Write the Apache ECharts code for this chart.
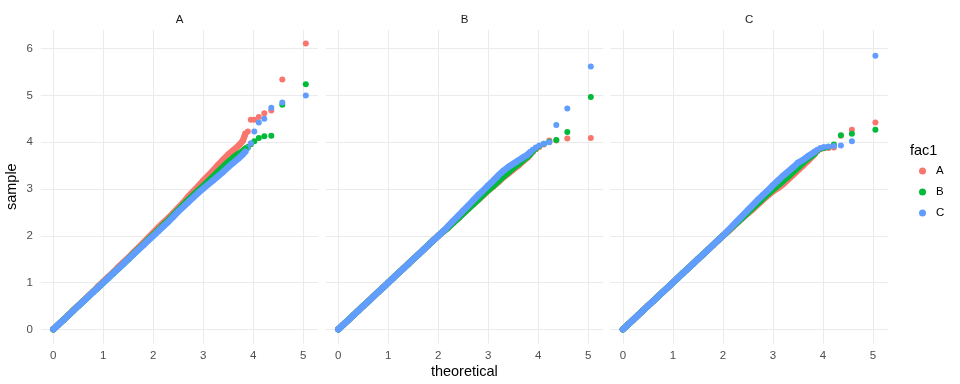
<!DOCTYPE html>
<html><head><meta charset="utf-8">
<script src="https://cdn.jsdelivr.net/npm/echarts@6/dist/echarts.min.js"></script>
<style>html,body{margin:0;padding:0;background:#fff}#c{width:960px;height:384px}</style>
</head><body><div id="c"></div>
<script>
// ---- data ----
const facets = ['A', 'B', 'C'];
const groups = ['A', 'B', 'C'];
const xTicks = [0, 1, 2, 3, 4, 5];
const yTicks = [0, 1, 2, 3, 4, 5, 6];
const theoretical = [0,0.1,0.2,0.3,0.4,0.5,0.6,0.7,0.8,0.9,1.0,1.1,1.2,1.3,1.4,1.5,1.6,1.7,1.8,1.9,
  2.0,2.1,2.2,2.3,2.4,2.5,2.6,2.7,2.8,2.9,3.0,3.1,3.2,3.3,3.4,3.5,3.6,3.7,
  3.79,3.84,3.89,3.95,4.02,4.11,4.22,4.36,4.58,5.05];
const denseCount = 40; // the first points overlap into a continuous band

// facet A
const sampleA_A = [0,0.1,0.2,0.3,0.41,0.51,0.61,0.71,0.81,0.92,1.02,1.12,1.22,1.33,1.43,1.53,1.64,1.74,1.85,1.96,
  2.07,2.18,2.28,2.38,2.49,2.6,2.71,2.84,2.95,3.06,3.18,3.29,3.4,3.52,3.63,3.74,3.83,3.92,
  4.03,4.18,4.23,4.48,4.48,4.54,4.62,4.68,5.34,6.11];
const sampleA_B = [0,0.1,0.2,0.3,0.4,0.5,0.6,0.7,0.8,0.9,1.0,1.1,1.2,1.3,1.4,1.5,1.61,1.71,1.81,1.92,
  2.02,2.12,2.23,2.33,2.44,2.55,2.66,2.77,2.87,2.97,3.07,3.17,3.27,3.38,3.48,3.58,3.67,3.75,
  3.81,3.86,3.9,3.96,4.02,4.09,4.13,4.14,4.80,5.24];
const sampleA_C = [0,0.1,0.2,0.3,0.4,0.5,0.6,0.7,0.8,0.9,1.0,1.1,1.2,1.3,1.4,1.5,1.6,1.7,1.8,1.9,
  2.0,2.1,2.2,2.3,2.41,2.52,2.62,2.72,2.82,2.92,3.01,3.1,3.19,3.28,3.37,3.47,3.56,3.65,
  3.74,3.8,3.88,3.98,4.23,4.42,4.50,4.74,4.85,5.0];
// facet B
const sampleB_A = [0,0.1,0.2,0.3,0.4,0.5,0.6,0.7,0.8,0.9,1.0,1.1,1.2,1.3,1.4,1.5,1.6,1.7,1.8,1.9,
  2.0,2.09,2.18,2.28,2.38,2.48,2.58,2.68,2.77,2.87,2.97,3.06,3.15,3.25,3.33,3.42,3.5,3.6,
  3.68,3.74,3.79,3.85,3.9,3.95,4.04,4.04,4.08,4.09];
const sampleB_B = [0,0.1,0.2,0.3,0.4,0.5,0.6,0.7,0.8,0.9,1.0,1.1,1.2,1.3,1.4,1.5,1.6,1.7,1.8,1.9,
  2.0,2.09,2.18,2.28,2.38,2.48,2.58,2.68,2.78,2.88,2.98,3.07,3.17,3.27,3.36,3.45,3.53,3.62,
  3.7,3.75,3.8,3.86,3.92,3.97,4.01,4.05,4.22,4.97];
const sampleB_C = [0,0.1,0.2,0.3,0.4,0.5,0.6,0.7,0.8,0.9,1.0,1.1,1.2,1.3,1.4,1.5,1.6,1.7,1.8,1.9,
  2.0,2.1,2.21,2.32,2.43,2.54,2.65,2.76,2.87,2.97,3.08,3.18,3.29,3.39,3.47,3.54,3.61,3.68,
  3.74,3.79,3.84,3.89,3.93,3.97,4.0,4.37,4.72,5.62];
// facet C
const sampleC_A = [0,0.1,0.2,0.3,0.4,0.5,0.6,0.7,0.8,0.9,1.0,1.1,1.2,1.3,1.4,1.5,1.6,1.7,1.8,1.9,
  2.0,2.09,2.19,2.29,2.39,2.48,2.57,2.67,2.77,2.86,2.95,3.02,3.1,3.2,3.3,3.4,3.5,3.6,
  3.7,3.76,3.81,3.85,3.87,3.88,3.89,4.14,4.27,4.42];
const sampleC_B = [0,0.1,0.2,0.3,0.4,0.5,0.6,0.7,0.8,0.9,1.0,1.1,1.2,1.3,1.4,1.5,1.6,1.7,1.8,1.9,
  2.0,2.1,2.2,2.3,2.4,2.5,2.6,2.7,2.8,2.9,2.99,3.08,3.17,3.26,3.36,3.46,3.56,3.65,
  3.72,3.77,3.82,3.86,3.88,3.9,3.95,4.15,4.18,4.27];
const sampleC_C = [0,0.1,0.2,0.3,0.4,0.5,0.6,0.7,0.8,0.9,1.0,1.1,1.2,1.3,1.4,1.5,1.6,1.7,1.8,1.9,
  2.0,2.11,2.22,2.33,2.44,2.55,2.66,2.77,2.87,2.97,3.08,3.18,3.28,3.37,3.46,3.56,3.62,3.7,
  3.76,3.8,3.84,3.88,3.9,3.91,3.92,3.93,4.02,5.85];

const samples = [
  [sampleA_A, sampleA_B, sampleA_C],
  [sampleB_A, sampleB_B, sampleB_C],
  [sampleC_A, sampleC_B, sampleC_C]
];

// ---- styling ----
const colors = ['#F8766D', '#00BA38', '#619CFF'];
const FONT = '"Liberation Sans", Arial, Helvetica, sans-serif';
const GRID = '#EBEBEB';
const T = 'rgba(0,0,0,0)';
const panelLeft = [40.8, 325.8, 610.4];
const panelWidth = 277.5;
const panelTop = 30;
const panelHeight = 313.4;

const isTick = (v, list) => list.some(t => Math.abs(t - v) < 1e-6);

const grids = [], xAxes = [], yAxes = [], series = [], graphics = [];
facets.forEach((f, i) => {
  grids.push({ left: panelLeft[i], top: panelTop, width: panelWidth, height: panelHeight });
  xAxes.push({
    type: 'value', gridIndex: i, min: -0.25, max: 5.3, interval: 0.25,
    axisLine: { show: false }, axisTick: { show: false },
    axisLabel: { formatter: v => isTick(v, xTicks) ? String(Math.round(v)) : '', color: '#4D4D4D',
      fontSize: 11.5, fontFamily: FONT, margin: 6 },
    splitLine: { show: true, lineStyle: { color: [T, GRID, T, T], width: 1 } }
  });
  const yc = [T, T, T, GRID, T, T, T, T, T, T];
  yAxes.push({
    type: 'value', gridIndex: i, min: -0.3, max: 6.4, interval: 0.1,
    axisLine: { show: false }, axisTick: { show: false },
    axisLabel: { show: i === 0, formatter: v => isTick(v, yTicks) ? String(Math.round(v)) : '',
      color: '#4D4D4D', fontSize: 11.5, fontFamily: FONT, margin: 8 },
    splitLine: { show: true, lineStyle: { color: yc, width: 1 } }
  });
  groups.forEach((g, j) => {
    const pts = theoretical.map((t, k) => [t, samples[i][j][k]]);
    // dense body of the QQ points (tens of thousands of overlapping points in the original)
    series.push({
      type: 'line', name: g, xAxisIndex: i, yAxisIndex: i,
      showSymbol: false, symbol: 'circle', silent: true,
      lineStyle: { color: colors[j], width: 6.5, cap: 'round', join: 'round' },
      itemStyle: { color: colors[j] },
      emphasis: { disabled: true },
      data: pts.slice(0, denseCount)
    });
    series.push({
      type: 'scatter', name: g, xAxisIndex: i, yAxisIndex: i,
      symbol: 'circle', symbolSize: 6,
      itemStyle: { color: colors[j], opacity: 1 },
      emphasis: { disabled: true },
      data: pts
    });
  });
  graphics.push({
    type: 'text', x: panelLeft[i] + panelWidth / 2, y: 20,
    style: { text: f, fontSize: 11.5, fontFamily: FONT, fill: '#1A1A1A', textAlign: 'center', textVerticalAlign: 'middle' }
  });
});

graphics.push({
  type: 'text', x: (panelLeft[0] + panelLeft[2] + panelWidth) / 2, y: 372,
  style: { text: 'theoretical', fontSize: 14.5, fontFamily: FONT, fill: '#000', textAlign: 'center', textVerticalAlign: 'middle' }
});
graphics.push({
  type: 'text', x: 12, y: panelTop + panelHeight / 2, rotation: Math.PI / 2,
  style: { text: 'sample', fontSize: 14.5, fontFamily: FONT, fill: '#000', textAlign: 'center', textVerticalAlign: 'middle' }
});
graphics.push({
  type: 'text', x: 910, y: 151,
  style: { text: 'fac1', fontSize: 14.5, fontFamily: FONT, fill: '#000', textAlign: 'left', textVerticalAlign: 'middle' }
});

const chart = echarts.init(document.getElementById('c'), null, { renderer: 'canvas' });
chart.setOption({
  animation: false,
  backgroundColor: '#fff',
  grid: grids, xAxis: xAxes, yAxis: yAxes,
  legend: {
    data: groups, orient: 'vertical', left: 919, top: 165,
    itemWidth: 7, itemHeight: 14, itemGap: 9, icon: 'circle', padding: 0,
    textStyle: { fontSize: 11.5, fontFamily: FONT, color: '#000', padding: [0, 0, 0, 5] }
  },
  graphic: graphics,
  series: series
});
</script></body></html>
